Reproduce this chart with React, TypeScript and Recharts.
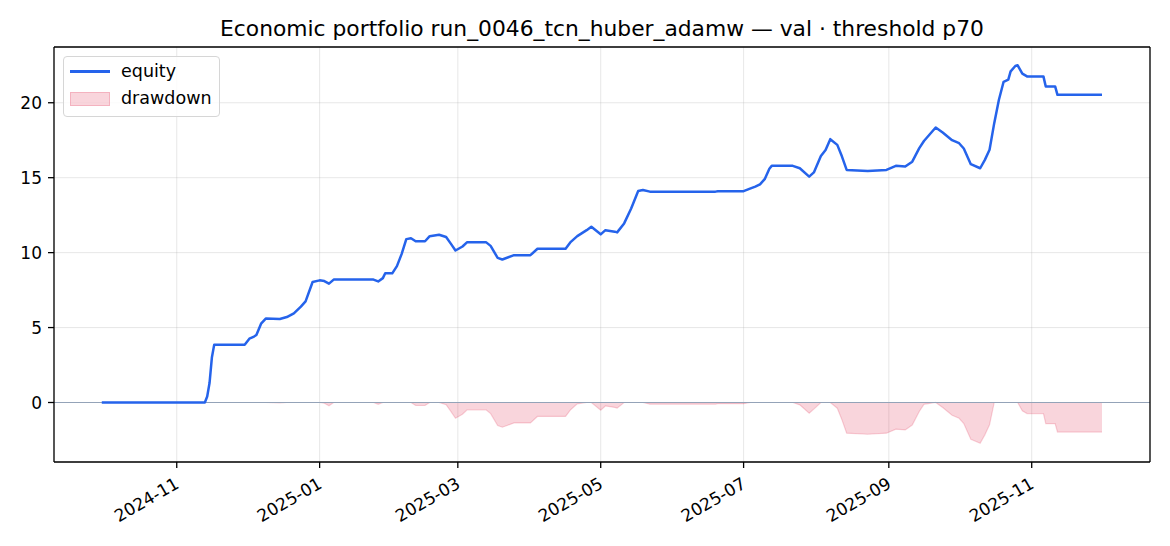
import {
  Area,
  CartesianGrid,
  ComposedChart,
  Legend,
  Line,
  ReferenceLine,
  XAxis,
  YAxis,
} from 'recharts'

const dates = [
  '2024-09-30', '2024-11-13', '2024-11-14', '2024-11-15', '2024-11-16', '2024-11-17',
  '2024-11-30', '2024-12-02', '2024-12-04', '2024-12-05', '2024-12-07', '2024-12-09',
  '2024-12-15', '2024-12-18', '2024-12-21', '2024-12-24', '2024-12-26', '2024-12-29',
  '2025-01-01', '2025-01-03', '2025-01-05', '2025-01-07', '2025-01-24', '2025-01-26',
  '2025-01-28', '2025-01-29', '2025-02-01', '2025-02-03', '2025-02-05', '2025-02-07',
  '2025-02-09', '2025-02-11', '2025-02-15', '2025-02-17', '2025-02-21', '2025-02-24',
  '2025-02-26', '2025-02-28', '2025-03-03', '2025-03-05', '2025-03-13', '2025-03-15',
  '2025-03-18', '2025-03-20', '2025-03-25', '2025-04-01', '2025-04-04', '2025-04-16',
  '2025-04-18', '2025-04-21', '2025-04-25', '2025-04-27', '2025-05-01', '2025-05-03',
  '2025-05-07', '2025-05-08', '2025-05-11', '2025-05-14', '2025-05-17', '2025-05-19',
  '2025-05-22', '2025-06-19', '2025-06-20', '2025-07-01', '2025-07-04', '2025-07-06',
  '2025-07-08', '2025-07-10', '2025-07-12', '2025-07-13', '2025-07-22', '2025-07-25',
  '2025-07-29', '2025-07-31', '2025-08-03', '2025-08-05', '2025-08-07', '2025-08-10',
  '2025-08-12', '2025-08-14', '2025-08-23', '2025-08-31', '2025-09-04', '2025-09-08',
  '2025-09-11', '2025-09-14', '2025-09-16', '2025-09-21', '2025-09-24', '2025-09-28',
  '2025-10-01', '2025-10-03', '2025-10-06', '2025-10-10', '2025-10-12', '2025-10-14',
  '2025-10-16', '2025-10-18', '2025-10-20', '2025-10-22', '2025-10-23', '2025-10-25',
  '2025-10-26', '2025-10-28', '2025-10-30', '2025-11-06', '2025-11-07', '2025-11-11',
  '2025-11-12', '2025-12-01',
]

const equity = [
  0, 0, 0.4, 1.3, 3.0, 3.86,
  3.86, 4.26, 4.4, 4.5, 5.26, 5.6,
  5.57, 5.7, 5.95, 6.4, 6.75, 8.04,
  8.15, 8.1, 7.93, 8.2, 8.2, 8.08,
  8.3, 8.62, 8.62, 9.1, 9.9, 10.9,
  10.96, 10.76, 10.76, 11.1, 11.19, 11.04,
  10.6, 10.14, 10.41, 10.7, 10.7, 10.45,
  9.65, 9.54, 9.83, 9.83, 10.26, 10.26,
  10.68, 11.1, 11.5, 11.73, 11.22, 11.5,
  11.4, 11.35, 11.95, 12.95, 14.11, 14.18,
  14.07, 14.07, 14.1, 14.1, 14.29, 14.4,
  14.55, 14.9, 15.6, 15.79, 15.79, 15.63,
  15.07, 15.35, 16.45, 16.85, 17.57, 17.19,
  16.41, 15.52, 15.45, 15.52, 15.79, 15.74,
  16.07, 16.97, 17.45, 18.35, 18.01, 17.5,
  17.3, 16.95, 15.9, 15.63, 16.19, 16.86,
  18.64, 20.2, 21.4, 21.54, 22.09, 22.45,
  22.5, 21.94, 21.76, 21.76, 21.09, 21.09,
  20.53, 20.53,
]

const drawdown = [
  0, 0, 0, 0, 0, 0,
  0, 0, 0, 0, 0, 0,
  -0.03, 0, 0, 0, 0, 0,
  0, -0.05, -0.22, 0, 0, -0.12,
  0, 0, 0, 0, 0, 0,
  0, -0.2, -0.2, 0, 0, -0.15,
  -0.59, -1.05, -0.78, -0.49, -0.49, -0.74,
  -1.54, -1.65, -1.36, -1.36, -0.93, -0.93,
  -0.51, -0.09, 0, 0, -0.51, -0.23,
  -0.33, -0.38, 0, 0, 0, 0,
  -0.11, -0.11, -0.08, -0.08, 0, 0,
  0, 0, 0, 0, 0, -0.16,
  -0.72, -0.44, 0, 0, 0, -0.38,
  -1.16, -2.05, -2.12, -2.05, -1.78, -1.83,
  -1.5, -0.6, -0.12, 0, -0.34, -0.85,
  -1.05, -1.4, -2.45, -2.72, -2.16, -1.49,
  0, 0, 0, 0, 0, 0,
  0, -0.56, -0.74, -0.74, -1.41, -1.41,
  -1.97, -1.97,
]

const xTickDates = ['2024-11-01', '2025-01-01', '2025-03-01', '2025-05-01', '2025-07-01', '2025-09-01', '2025-11-01']
const yTicks = [0, 5, 10, 15, 20]
const yDomain = [-3.97, 23.72]

const TITLE = 'Economic portfolio run_0046_tcn_huber_adamw — val · threshold p70'
const FONT = '"DejaVu Sans", sans-serif'
const DAY = 86400000

const data = dates.map((d, i) => ({
  t: Date.parse(d),
  equity: equity[i],
  drawdown: drawdown[i],
}))

const xTicks = xTickDates.map((d) => Date.parse(d))
const xDomain = [data[0].t - 20.4 * DAY, data[data.length - 1].t + 20.5 * DAY]

function monthLabel(ts: number): string {
  const d = new Date(ts)
  return `${d.getUTCFullYear()}-${String(d.getUTCMonth() + 1).padStart(2, '0')}`
}

function DateTick(props: any) {
  const { x, y, payload } = props
  return (
    <g transform={`translate(${x + 3.5},${y + 13}) rotate(-30)`}>
      <text textAnchor="end" fontSize={17} fill="#000" fontFamily={FONT}>
        {monthLabel(payload.value)}
      </text>
    </g>
  )
}

function LegendBox() {
  return (
    <div
      style={{
        width: 157,
        height: 61,
        boxSizing: 'border-box',
        border: '1px solid #d6d6d6',
        borderRadius: 4,
        background: 'rgba(255,255,255,0.8)',
        position: 'relative',
        fontFamily: FONT,
        fontSize: 17.5,
        color: '#000',
      }}
    >
      <div style={{ position: 'absolute', left: 6, top: 13, width: 40, height: 3, background: '#2563eb' }} />
      <div style={{ position: 'absolute', left: 57, top: 3, lineHeight: '22px' }}>equity</div>
      <div
        style={{
          position: 'absolute',
          left: 6,
          top: 35,
          width: 40,
          height: 14,
          boxSizing: 'border-box',
          background: 'rgba(220,20,60,0.18)',
          border: '1px solid rgba(220,20,60,0.18)',
        }}
      />
      <div style={{ position: 'absolute', left: 57, top: 30, lineHeight: '22px' }}>drawdown</div>
    </div>
  )
}

export default function App() {
  return (
    <div style={{ position: 'absolute', left: 0, top: 0, width: 1170, height: 546, background: '#fff' }}>
      <ComposedChart
        width={1170}
        height={546}
        data={data}
        margin={{ top: 47, right: 20, bottom: 0, left: 0 }}
      >
        <CartesianGrid stroke="#b0b0b0" strokeOpacity={0.3} strokeWidth={1} />
        <XAxis
          dataKey="t"
          type="number"
          scale="linear"
          domain={xDomain}
          ticks={xTicks}
          allowDataOverflow
          height={84}
          tickSize={6}
          tickMargin={6}
          tick={<DateTick />}
          axisLine={{ stroke: '#000', strokeWidth: 1.3 }}
          tickLine={{ stroke: '#000', strokeWidth: 1.3 }}
        />
        <YAxis
          type="number"
          domain={yDomain}
          ticks={yTicks}
          allowDataOverflow
          width={54}
          tickSize={6}
          tickMargin={6}
          tick={{ fontSize: 17, fill: '#000', fontFamily: FONT }}
          axisLine={{ stroke: '#000', strokeWidth: 1.3 }}
          tickLine={{ stroke: '#000', strokeWidth: 1.3 }}
        />
        <Legend
          layout="horizontal"
          verticalAlign="middle"
          align="center"
          wrapperStyle={{ left: 63, top: 56, width: 157, height: 61 }}
          content={() => <LegendBox />}
        />
        <Area
          type="linear"
          dataKey="drawdown"
          name="drawdown"
          baseValue={0}
          fill="#dc143c"
          fillOpacity={0.18}
          stroke="#dc143c"
          strokeOpacity={0.18}
          strokeWidth={1.2}
          dot={false}
          activeDot={false}
          isAnimationActive={false}
        />
        <ReferenceLine y={0} stroke="#94a3b8" strokeWidth={1.2} />
        {/* top and right frame lines */}
        <ReferenceLine y={yDomain[1]} stroke="#000" strokeWidth={1.3} />
        <ReferenceLine x={xDomain[1]} stroke="#000" strokeWidth={1.3} />
        <Line
          type="linear"
          dataKey="equity"
          name="equity"
          stroke="#2563eb"
          strokeWidth={2.5}
          strokeLinejoin="round"
          dot={false}
          activeDot={false}
          isAnimationActive={false}
        />
      </ComposedChart>
      <svg
        width={1170}
        height={46}
        style={{ position: 'absolute', left: 0, top: 0, pointerEvents: 'none' }}
      >
        <text x={602} y={36} textAnchor="middle" fontSize={21.8} fill="#000" fontFamily={FONT}>
          {TITLE}
        </text>
      </svg>
    </div>
  )
}
